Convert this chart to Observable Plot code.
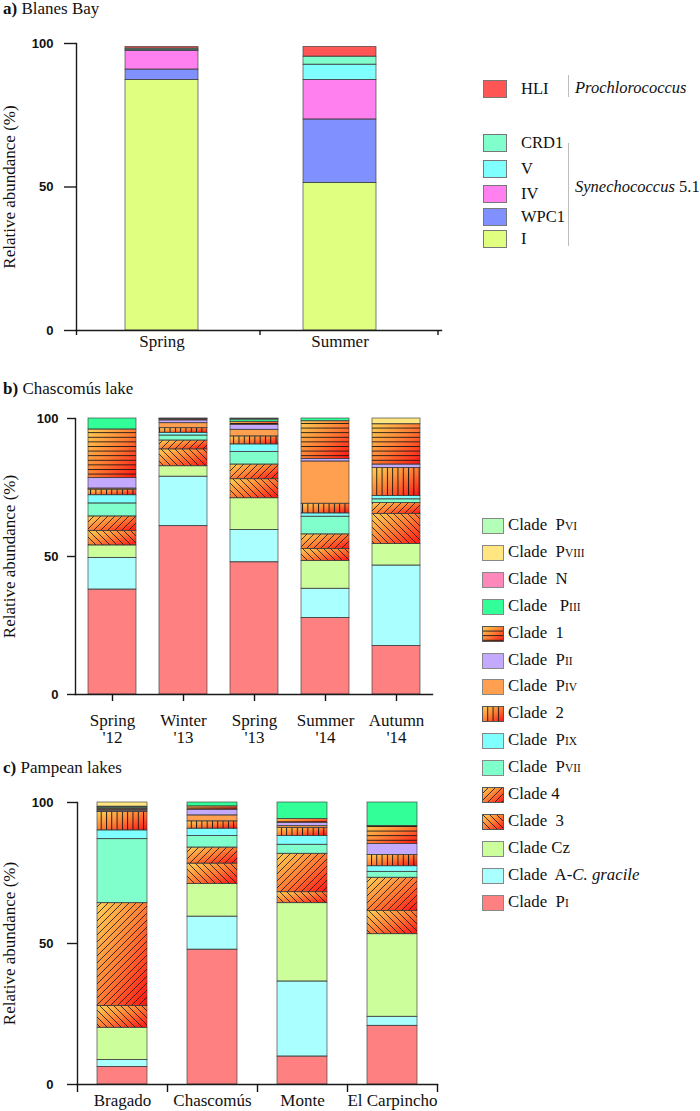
<!DOCTYPE html>
<html>
<head>
<meta charset="utf-8">
<script src="https://cdn.jsdelivr.net/npm/d3@7"></script>
<script src="https://cdn.jsdelivr.net/npm/@observablehq/plot@0.6"></script>
<style>
  body { margin: 0; background: #fff; }
  #root { position: relative; width: 700px; height: 1111px; overflow: hidden;
          font-family: "Liberation Serif", "Times New Roman", serif; color: #111; }
  .panel { position: absolute; left: 0; }
  .title { position: absolute; left: 3px; font-size: 17px; line-height: 17px; white-space: pre; }
  .title b { font-weight: bold; }
  .lgA { position: absolute; font-size: 16.5px; line-height: 20px; white-space: pre; }
  .lgB { position: absolute; font-size: 16.8px; line-height: 20px; white-space: pre; }
  .sc { font-size: 11.5px; }
  .sw { position: absolute; }
  .bracket { position: absolute; width: 0; border-left: 1.5px solid #bdbdbd; }
</style>
</head>
<body>
<svg width="0" height="0" style="position:absolute;left:0;top:0">
  <defs>
    <linearGradient id="grad" x1="0" y1="0" x2="1" y2="1">
      <stop offset="0" stop-color="#ffd254"/>
      <stop offset="0.5" stop-color="#ff7d34"/>
      <stop offset="1" stop-color="#ff1414"/>
    </linearGradient>
    <pattern id="hH" patternUnits="userSpaceOnUse" width="8" height="4.6">
      <line x1="0" y1="0.5" x2="8" y2="0.5" stroke="#111" stroke-width="0.9"/>
    </pattern>
    <pattern id="hV" patternUnits="userSpaceOnUse" width="5.3" height="8">
      <line x1="0.5" y1="0" x2="0.5" y2="8" stroke="#111" stroke-width="0.9"/>
    </pattern>
    <pattern id="hFwd" patternUnits="userSpaceOnUse" width="7" height="7">
      <path d="M-1,1 L1,-1 M0,7 L7,0 M6,8 L8,6" stroke="#111" stroke-width="0.8"/>
    </pattern>
    <pattern id="hBack" patternUnits="userSpaceOnUse" width="7" height="7">
      <path d="M-1,6 L1,8 M0,0 L7,7 M6,-1 L8,1" stroke="#111" stroke-width="0.8"/>
    </pattern>
  </defs>
</svg>
<div id="root"></div>
<script>
// ---------------- DATA ----------------
// a) Blanes Bay (stacked bottom -> top)
const blanesPeriods = ["Spring", "Summer"];
const blanesClades = ["I", "WPC1", "IV", "V", "CRD1", "HLI"];
const blanesSpring = [87.3, 3.6, 6.5, 0.4, 0.4, 0.6];
const blanesSummer = [51.4, 22.1, 13.8, 5.3, 2.8, 3.4];

// b) & c) clades (stacked bottom -> top)
const lakeClades = ["PI", "A-C. gracile", "Cz", "3", "4", "PVII", "PIX", "2", "PIV", "PII", "1", "PIII", "N", "PVIII", "PVI"];

// b) Chascomús lake
const chasPeriods = ["Spring '12", "Winter '13", "Spring '13", "Summer '14", "Autumn '14"];
const chasSpring12 = [38.0, 11.5, 4.5, 5.2, 5.3, 4.7, 3.0, 2.0, 0.4, 3.8, 17.6, 4.0, 0, 0, 0];
const chasWinter13 = [61.0, 17.9, 3.8, 6.1, 3.2, 1.8, 1.0, 1.7, 1.8, 1.0, 0.4, 0.2, 0.1, 0, 0];
const chasSpring13 = [47.9, 11.7, 11.5, 6.9, 5.3, 4.6, 2.7, 2.9, 2.4, 1.8, 1.1, 0.8, 0.2, 0.2, 0];
const chasSummer14 = [27.7, 10.6, 10.1, 4.3, 5.3, 6.4, 1.2, 3.5, 15.3, 0.9, 13.7, 1.0, 0, 0, 0];
const chasAutumn14 = [17.6, 29.1, 7.8, 10.9, 4.0, 1.3, 1.2, 10.2, 0, 1.2, 14.6, 0, 0, 2.1, 0];

// c) Pampean lakes
const pampLakes = ["Bragado", "Chascomús", "Monte", "El Carpincho"];
const pampBragado = [6.2, 2.5, 11.4, 7.7, 36.5, 22.7, 3.1, 6.5, 0.3, 0.4, 0.5, 0.4, 0.3, 1.5, 0];
const pampChascomus = [47.8, 11.7, 11.6, 7.2, 5.7, 4.1, 2.6, 2.6, 2.1, 2.0, 1.2, 1.4, 0, 0, 0];
const pampMonte = [9.9, 26.6, 27.8, 3.9, 13.6, 3.2, 3.1, 2.9, 0.6, 1.2, 1.3, 5.9, 0, 0, 0];
const pampCarpincho = [20.8, 3.2, 29.3, 8.2, 11.8, 2.1, 2.0, 4.0, 0, 3.9, 6.4, 8.3, 0, 0, 0];

const yTicks = [0, 50, 100];
const yLabel = "Relative abundance (%)";

// ---------------- STYLES ----------------
const serif = '"Liberation Serif", "Times New Roman", serif';
const sans = '"Liberation Sans", Arial, sans-serif';
const blanesFill = { I: "#e0ff80", WPC1: "#8090ff", IV: "#ff80ee", V: "#80ffff", CRD1: "#80ffcc", HLI: "#ff5555" };
const lakeFill = {
  "PI": "#ff8080", "A-C. gracile": "#aaffff", "Cz": "#ccff9c", "3": "url(#grad)", "4": "url(#grad)",
  "PVII": "#80ffcc", "PIX": "#80ffff", "2": "url(#grad)", "PIV": "#ffa050", "PII": "#c4aaff",
  "1": "url(#grad)", "PIII": "#33ff99", "N": "#ff88bb", "PVIII": "#ffe680", "PVI": "#b3ffb8"
};
const lakeHatch = { "3": "url(#hBack)", "4": "url(#hFwd)", "2": "url(#hV)", "1": "url(#hH)" };

function rows(periods, clades, series, fills, hatches) {
  const out = [];
  periods.forEach((p, i) => clades.forEach((c, j) => {
    const v = series[i][j];
    if (v > 0) out.push({ period: p, clade: c, v, fill: fills[c], hatch: hatches[c] || "none" });
  }));
  return out;
}
function bars(data) {
  return [
    Plot.barY(data, Plot.stackY({ x: "period", y: "v", z: "clade", fill: "fill" })),
    Plot.barY(data, Plot.stackY({ x: "period", y: "v", z: "clade", fill: "hatch", stroke: "#3a3a3a", strokeWidth: 0.8, strokeOpacity: 0.8 }))
  ];
}
function axesLines() {
  return [
    Plot.frame({ anchor: "left", stroke: "#1a1a1a", strokeWidth: 1.4 }),
    Plot.frame({ anchor: "bottom", stroke: "#1a1a1a", strokeWidth: 1.4 })
  ];
}
function yAxis(tickSize, tickPadding) {
  return Plot.axisY({ ticks: yTicks, tickSize, tickPadding, label: null, stroke: "#1a1a1a", strokeWidth: 1.4,
    fontFamily: sans, fontWeight: "bold", fontSize: 13, fill: "#111" });
}
function yTitle(dx) {
  return Plot.text([yLabel], { frameAnchor: "left", textAnchor: "middle", rotate: -90, dx,
    fontSize: 17, fontFamily: serif, fill: "#111" });
}
const baseStyle = { fontFamily: serif, fontSize: "17px", color: "#111", background: "transparent", overflow: "visible" };

const root = document.getElementById("root");
function place(node, top) {
  const d = document.createElement("div");
  d.className = "panel";
  d.style.top = top + "px";
  d.appendChild(node);
  root.appendChild(d);
}
function addHTML(html) { root.insertAdjacentHTML("beforeend", html); }

// ---------------- PANEL A ----------------
const dataA = rows(blanesPeriods, blanesClades, [blanesSpring, blanesSummer], blanesFill, {});
place(Plot.plot({
  width: 450, height: 345, marginLeft: 76, marginRight: 9, marginTop: 13, marginBottom: 45,
  style: baseStyle,
  x: { domain: blanesPeriods, paddingInner: 0.59, paddingOuter: 0.32, align: 0.43, axis: null },
  y: { domain: [0, 100], axis: null },
  color: { type: "identity" },
  marks: [
    ...bars(dataA),
    ...axesLines(),
    yAxis(12, 11),
    Plot.axisX({ tickSize: 0, tickPadding: 4, label: null, fontSize: 17, fontFamily: serif }),
    Plot.axisX({ ticks: [blanesPeriods[0]], tickSize: 5, tickFormat: () => "", label: null, dx: -85.5, strokeWidth: 1.4 }),
    Plot.axisX({ tickSize: 5, tickFormat: () => "", label: null, dx: 98, strokeWidth: 1.4 }),
    yTitle(-67)
  ]
}), 30);

// ---------------- PANEL B ----------------
const dataB = rows(chasPeriods, lakeClades, [chasSpring12, chasWinter13, chasSpring13, chasSummer14, chasAutumn14], lakeFill, lakeHatch);
place(Plot.plot({
  width: 450, height: 349, marginLeft: 75, marginRight: 18, marginTop: 18, marginBottom: 55,
  style: baseStyle,
  x: { domain: chasPeriods, paddingInner: 0.328, paddingOuter: 0.164, axis: null },
  y: { domain: [0, 100], axis: null },
  color: { type: "identity" },
  marks: [
    ...bars(dataB),
    ...axesLines(),
    yAxis(8, 9),
    Plot.axisX({ tickSize: 7, tickPadding: 12, label: null, strokeWidth: 1.4, fontSize: 17, fontFamily: serif,
      tickFormat: d => d.replace(" ", "\n") }),
    yTitle(-66)
  ]
}), 400);

// ---------------- PANEL C ----------------
const dataC = rows(pampLakes, lakeClades, [pampBragado, pampChascomus, pampMonte, pampCarpincho], lakeFill, lakeHatch);
place(Plot.plot({
  width: 450, height: 331, marginLeft: 77, marginRight: 13, marginTop: 22, marginBottom: 27,
  style: baseStyle,
  x: { domain: pampLakes, paddingInner: 0.444, paddingOuter: 0.222, axis: null },
  y: { domain: [0, 100], axis: null },
  color: { type: "identity" },
  marks: [
    ...bars(dataC),
    ...axesLines(),
    yAxis(10, 14),
    Plot.axisX({ tickSize: 0, tickPadding: 9, label: null, fontSize: 17, fontFamily: serif }),
    Plot.axisX({ tickSize: 8, tickFormat: () => "", label: null, dx: -45, strokeWidth: 1.4 }),
    Plot.axisX({ ticks: [pampLakes[pampLakes.length - 1]], tickSize: 8, tickFormat: () => "", label: null, dx: 45, strokeWidth: 1.4 }),
    yTitle(-68)
  ]
}), 780);

// ---------------- TITLES ----------------
addHTML(`<div class="title" style="top:0px"><b>a)</b> Blanes Bay</div>`);
addHTML(`<div class="title" style="top:380px"><b>b)</b> Chascomús lake</div>`);
addHTML(`<div class="title" style="top:759px"><b>c)</b> Pampean lakes</div>`);

// ---------------- LEGEND A ----------------
const legendAOrder = ["HLI", "CRD1", "V", "IV", "WPC1", "I"];
const legendATop = { HLI: 80, CRD1: 134, V: 160, IV: 185, WPC1: 208, I: 230 };
legendAOrder.forEach(c => {
  const t = legendATop[c];
  addHTML(`<svg class="sw" style="left:483px;top:${t}px" width="24" height="18"><rect x="0.5" y="0.5" width="23" height="17" fill="${blanesFill[c]}" stroke="#777" stroke-width="1"/></svg>`);
  addHTML(`<div class="lgA" style="left:521px;top:${t - 1}px">${c}</div>`);
});
addHTML(`<div class="bracket" style="left:568px;top:75px;height:22px"></div>`);
addHTML(`<div class="bracket" style="left:568px;top:143px;height:103px"></div>`);
addHTML(`<div class="lgA" style="left:575px;top:78px"><i>Prochlorococcus</i></div>`);
addHTML(`<div class="lgA" style="left:575px;top:177px"><i>Synechococcus</i> 5.1</div>`);

// ---------------- LEGEND B/C ----------------
const sc = s => `<span class="sc">${s}</span>`;
const lakeLabel = {
  "PVI": "Clade  P" + sc("VI"), "PVIII": "Clade  P" + sc("VIII"), "N": "Clade  N", "PIII": "Clade   P" + sc("III"),
  "1": "Clade  1", "PII": "Clade  P" + sc("II"), "PIV": "Clade  P" + sc("IV"), "2": "Clade  2",
  "PIX": "Clade  P" + sc("IX"), "PVII": "Clade  P" + sc("VII"), "4": "Clade 4", "3": "Clade  3",
  "Cz": "Clade Cz", "A-C. gracile": "Clade  A-<i>C. gracile</i>", "PI": "Clade  P" + sc("I")
};
lakeClades.slice().reverse().forEach((c, i) => {
  const cy = 526 + 26.9 * i;
  const h = lakeHatch[c];
  addHTML(`<svg class="sw" style="left:482px;top:${(cy - 8).toFixed(1)}px" width="22" height="16">
    <rect x="0.5" y="0.5" width="21" height="15" fill="${lakeFill[c]}" stroke="#888" stroke-width="1"/>
    ${h ? `<rect x="0.5" y="0.5" width="21" height="15" fill="${h}" stroke="#555" stroke-width="1"/>` : ""}
  </svg>`);
  addHTML(`<div class="lgB" style="left:508px;top:${(cy - 11).toFixed(1)}px">${lakeLabel[c]}</div>`);
});
</script>
</body>
</html>
